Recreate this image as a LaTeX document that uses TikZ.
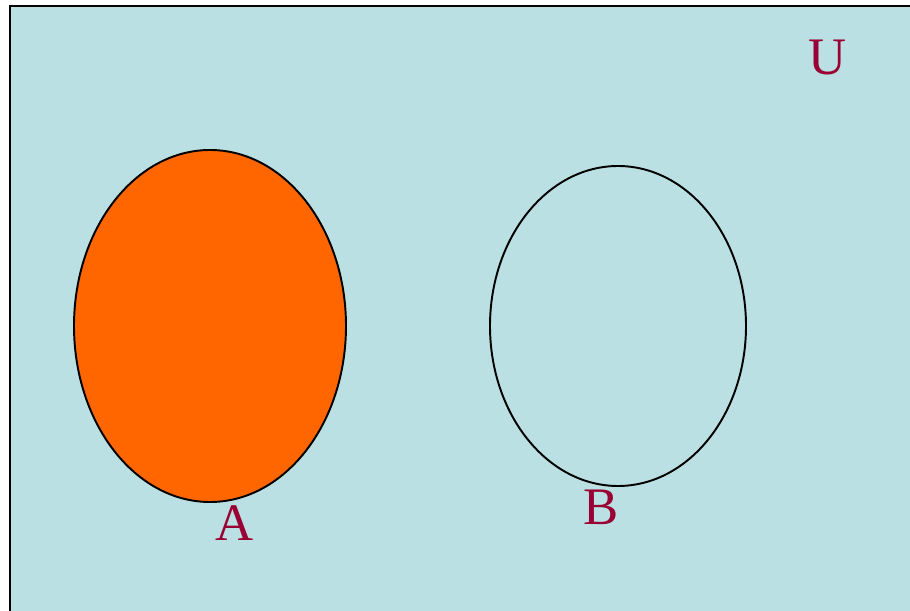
\documentclass[tikz,border=0pt]{standalone}
\usepackage{fontspec}
\setmainfont{Liberation Serif}
\usepackage{tikz}
\usetikzlibrary{shapes.geometric}
\definecolor{univ}{HTML}{BBE0E3}
\definecolor{setA}{HTML}{FF6600}
\definecolor{lbl}{HTML}{990033}

\begin{document}
\begin{tikzpicture}[x=0.02cm,y=-0.02cm,
  setlbl/.style={text=lbl,font=\fontsize{30}{36}\selectfont,inner sep=0pt},
  setshape/.style={ellipse,draw=black,line width=1.1pt,inner sep=0pt}]
  \useasboundingbox (0,0) rectangle (910,611);
  \fill[univ] (10,6) rectangle (910,611);
  \draw[line width=1.7pt] (10,611) -- (10,6) -- (910,6);
  \node[setshape,fill=setA,minimum width=272*0.02cm,minimum height=352*0.02cm] (A) at (210,326) {};
  \node[setshape,minimum width=256*0.02cm,minimum height=320*0.02cm] (B) at (618,326) {};
  \node[setlbl] (labA) at (235,523) {A};
  \node[setlbl] (labB) at (601,507) {B};
  \node[setlbl] (labU) at (828,58) {U};
\end{tikzpicture}
\end{document}
